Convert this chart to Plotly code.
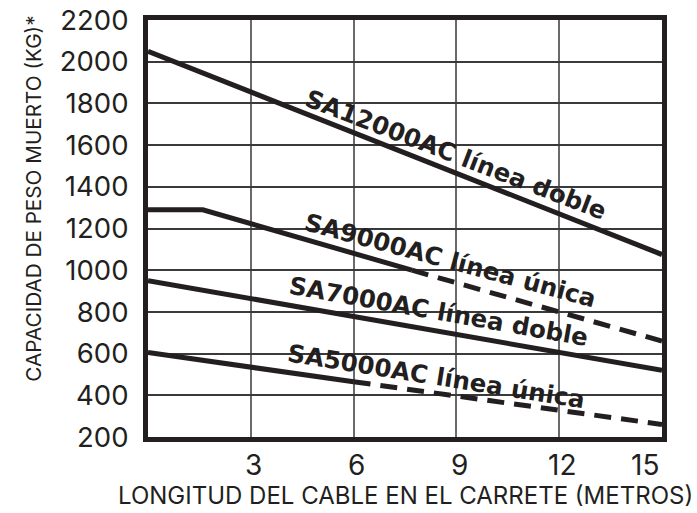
import plotly.graph_objects as go

# Data
sa12000_x = [0, 15]
sa12000_y = [2050, 1075]

sa9000_solid_x = [0, 1.6, 7.7]
sa9000_solid_y = [1290, 1290, 1000]
sa9000_dash_x = [7.7, 15]
sa9000_dash_y = [1000, 660]

sa7000_x = [0, 15]
sa7000_y = [950, 520]

sa5000_solid_x = [0, 6]
sa5000_solid_y = [605, 465]
sa5000_dash_x = [6, 15]
sa5000_dash_y = [465, 260]

x_ticks = [3, 6, 9, 12, 15]
x_ticktext = ["3", "6", "9", "12", "15"]
y_ticks = list(range(200, 2201, 200))

labels = ["SA12000AC línea doble", "SA9000AC línea única",
          "SA7000AC línea doble", "SA5000AC línea única"]
label_x = [8.98, 8.83, 8.48, 8.43]
label_y = [1556, 1045, 800, 490]
label_angle = [21, 15, 10, 9]

x_title = "LONGITUD DEL CABLE EN EL CARRETE (METROS)"
y_title = "CAPACIDAD DE PESO MUERTO (KG)*"

LINE = "#231f20"
W = 5
DASH = "17px,10px"
TICKFONT = "Inter, Liberation Sans, Arial"

fig = go.Figure()
def add(x, y, dash="solid"):
    fig.add_trace(go.Scatter(x=x, y=y, mode="lines",
                             line=dict(color=LINE, width=W, dash=dash),
                             showlegend=False, hoverinfo="skip"))

add(sa12000_x, sa12000_y)
add(sa9000_solid_x, sa9000_solid_y)
add(sa9000_dash_x, sa9000_dash_y, DASH)
add(sa7000_x, sa7000_y)
add(sa5000_solid_x, sa5000_solid_y)
add(sa5000_dash_x, sa5000_dash_y, DASH)

for t, x, y, a in zip(labels, label_x, label_y, label_angle):
    fig.add_annotation(x=x, y=y, text="<b>" + t + "</b>", showarrow=False,
                       textangle=a,
                       font=dict(family="DejaVu Sans", size=24.5, color=LINE))

# x tick labels (last one pulled inside like the original)
for i, (v, t) in enumerate(zip(x_ticks, x_ticktext)):
    fig.add_annotation(x=v, y=0, xref="x", yref="paper", text=t, showarrow=False,
                       yanchor="middle", yshift=-28,
                       xshift=(-17 if i == len(x_ticks) - 1 else 3),
                       font=dict(family=TICKFONT, size=28, color=LINE))

fig.add_annotation(x=0.5, y=(437.5 - 496) / 418.0, xref="paper", yref="paper",
                   text=x_title, yanchor="middle", showarrow=False,
                   font=dict(family=TICKFONT, size=24, color=LINE))
fig.add_annotation(x=-0.2527, y=0.5706, xref="paper", yref="paper", text=y_title,
                   showarrow=False, textangle=-90,
                   font=dict(family=TICKFONT, size=20.7, color=LINE))

fig.update_layout(
    width=697, height=513,
    margin=dict(l=148, r=34.5, t=19.5, b=75.5),
    paper_bgcolor="white", plot_bgcolor="white",
    font=dict(family=TICKFONT, color=LINE),
    xaxis=dict(range=[0, 15], tickvals=x_ticks, showticklabels=False, ticks="",
               showgrid=True, gridcolor="#6a6a6a", gridwidth=1.5, zeroline=False,
               showline=True, linecolor=LINE, linewidth=5, mirror=True,
               automargin=False),
    yaxis=dict(range=[200, 2200], tickvals=y_ticks, ticks="", showgrid=True,
               gridcolor="#3a3a3a", gridwidth=1.5, zeroline=False,
               showline=True, linecolor=LINE, linewidth=5, mirror=True,
               tickfont=dict(size=27.5), ticklabelstandoff=9,
               ticklabeloverflow="allow",
               automargin=False),
)

# remove the default 8px page margin so the figure fills the window exactly
fig.write_html("out.html", config={"displayModeBar": False},
               post_script="document.body.style.margin='0';document.body.style.overflow='hidden';")
